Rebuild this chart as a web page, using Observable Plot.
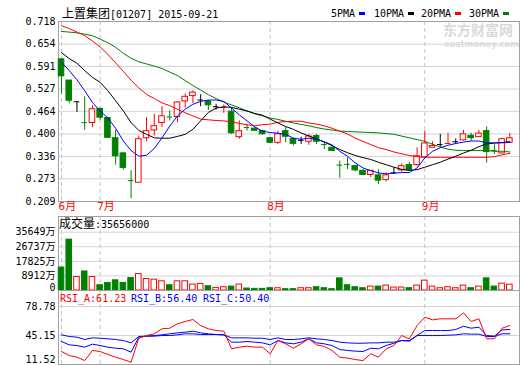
<!DOCTYPE html>
<html><head><meta charset="utf-8">
<script src="https://cdn.jsdelivr.net/npm/d3@7"></script>
<script src="https://cdn.jsdelivr.net/npm/@observablehq/plot@0.6"></script>
<style>
body{margin:0;background:#fff;}
#wrap{position:relative;width:520px;height:365px;overflow:hidden;font-family:"DejaVu Sans Mono","Noto Sans CJK SC",monospace;}
#wrap svg{position:absolute;left:0;}
.t{position:absolute;white-space:nowrap;font-size:10px;line-height:12px;font-family:"DejaVu Sans Mono",monospace;color:#000;}
.c{font-family:"Noto Sans CJK SC";font-size:12px;}
.sq{position:absolute;width:6px;height:3px;}
.wm{position:absolute;white-space:nowrap;color:#dadada;font-weight:bold;font-family:"Noto Sans CJK SC";}
</style></head>
<body><div id="wrap"></div>
<script>
const openP  = [0.611,0.551,0.491,0.433,0.431,0.471,0.445,0.388,0.345,0.269,0.262,0.388,0.410,0.431,0.449,0.448,0.492,0.507,0.496,0.492,0.477,0.474,0.463,0.391,0.419,0.415,0.408,0.388,0.375,0.408,0.386,0.382,0.378,0.394,0.371,0.361,0.313,0.315,0.309,0.296,0.284,0.283,0.270,0.290,0.297,0.312,0.312,0.334,0.361,0.370,0.372,0.378,0.382,0.395,0.391,0.408,0.354,0.345,0.375];
const highP  = [0.613,0.551,0.491,0.505,0.480,0.473,0.447,0.410,0.347,0.296,0.394,0.446,0.456,0.477,0.465,0.492,0.513,0.522,0.511,0.494,0.484,0.482,0.475,0.437,0.426,0.418,0.411,0.390,0.408,0.418,0.388,0.391,0.399,0.399,0.375,0.363,0.323,0.332,0.311,0.298,0.296,0.299,0.290,0.304,0.315,0.320,0.361,0.408,0.378,0.399,0.402,0.386,0.410,0.402,0.410,0.420,0.370,0.388,0.402];
const lowP   = [0.515,0.486,0.461,0.411,0.418,0.439,0.387,0.312,0.298,0.217,0.262,0.378,0.394,0.418,0.437,0.432,0.473,0.486,0.477,0.467,0.467,0.458,0.399,0.385,0.408,0.408,0.397,0.373,0.370,0.375,0.366,0.370,0.368,0.370,0.356,0.350,0.275,0.299,0.293,0.282,0.277,0.257,0.264,0.287,0.292,0.295,0.309,0.334,0.361,0.361,0.370,0.370,0.380,0.380,0.391,0.318,0.342,0.344,0.375];
const closeP = [0.563,0.494,0.491,0.432,0.470,0.446,0.389,0.337,0.304,0.268,0.385,0.408,0.422,0.450,0.448,0.489,0.505,0.517,0.496,0.481,0.477,0.475,0.402,0.408,0.418,0.409,0.399,0.375,0.399,0.392,0.372,0.382,0.393,0.378,0.370,0.352,0.312,0.314,0.297,0.284,0.296,0.268,0.283,0.290,0.309,0.297,0.337,0.373,0.366,0.370,0.373,0.378,0.399,0.388,0.401,0.349,0.353,0.385,0.388];
const volume = [14050,31100,8230,11640,8230,3210,4620,6220,4620,7620,10030,7020,6620,5620,3210,5620,5620,3610,4010,2610,1600,2000,2400,3610,1200,1000,1000,1400,1400,800,800,1400,1400,2000,1400,800,7420,3210,2000,1400,2400,2400,3000,1800,1800,1400,3000,6020,2400,1400,2000,1400,3000,1400,2400,7420,2400,4210,3566];
const ma5  = [0.603,0.579,0.553,0.522,0.489,0.465,0.445,0.416,0.380,0.353,0.337,0.340,0.359,0.389,0.422,0.451,0.470,0.484,0.492,0.496,0.496,0.492,0.473,0.454,0.437,0.420,0.408,0.404,0.402,0.399,0.388,0.385,0.388,0.385,0.378,0.369,0.351,0.337,0.318,0.304,0.296,0.290,0.287,0.289,0.291,0.291,0.304,0.332,0.351,0.361,0.368,0.373,0.377,0.380,0.380,0.375,0.375,0.375,0.376];
const ma10 = [0.630,0.613,0.600,0.579,0.560,0.546,0.522,0.494,0.465,0.432,0.410,0.399,0.389,0.388,0.388,0.393,0.399,0.413,0.437,0.461,0.473,0.477,0.475,0.470,0.465,0.458,0.453,0.442,0.431,0.421,0.413,0.403,0.394,0.386,0.377,0.367,0.356,0.347,0.339,0.333,0.328,0.320,0.313,0.306,0.300,0.297,0.299,0.306,0.313,0.320,0.329,0.337,0.346,0.354,0.364,0.372,0.374,0.376,0.378];
const ma20 = [0.706,0.698,0.688,0.678,0.663,0.646,0.625,0.601,0.577,0.552,0.530,0.512,0.500,0.488,0.480,0.470,0.460,0.451,0.442,0.440,0.438,0.437,0.434,0.430,0.426,0.423,0.426,0.428,0.433,0.435,0.436,0.436,0.431,0.428,0.423,0.416,0.408,0.400,0.388,0.379,0.370,0.361,0.356,0.349,0.344,0.339,0.336,0.334,0.334,0.334,0.334,0.334,0.334,0.334,0.334,0.334,0.336,0.341,0.345];
const ma30 = [0.690,0.688,0.686,0.682,0.678,0.668,0.658,0.645,0.628,0.614,0.604,0.598,0.592,0.585,0.575,0.565,0.551,0.537,0.524,0.511,0.500,0.490,0.482,0.474,0.465,0.457,0.451,0.445,0.441,0.436,0.431,0.427,0.423,0.418,0.414,0.411,0.408,0.407,0.406,0.405,0.404,0.403,0.401,0.399,0.394,0.389,0.384,0.379,0.371,0.363,0.357,0.354,0.353,0.353,0.353,0.353,0.351,0.351,0.349];
const rsiA = [26.6,21.9,20.0,16.1,27.8,26.6,23.1,20.0,17.3,14.2,42.0,45.1,47.1,52.9,53.6,58.7,61.4,63.7,56.7,52.9,50.9,50.2,29.7,31.6,32.8,31.6,31.6,23.9,39.3,35.5,30.4,35.5,41.3,34.3,32.4,27.8,20.0,18.9,17.3,16.1,23.9,20.0,29.7,33.5,45.1,41.3,56.7,66.4,63.3,64.5,64.5,64.5,71.4,61.4,64.5,41.3,41.3,53.6,56.7];
const rsiB = [38.2,34.3,33.5,31.6,35.1,33.5,31.6,30.4,29.7,25.8,43.2,44.4,45.1,45.9,47.1,48.2,49.0,50.2,48.2,47.1,46.3,45.9,37.4,37.4,38.2,37.4,36.6,34.3,39.3,36.6,35.5,37.4,41.3,36.6,35.5,33.5,28.9,27.8,27.0,26.6,30.4,29.7,33.5,36.2,39.3,39.3,45.1,50.9,50.9,50.9,50.9,52.1,55.9,53.6,54.8,45.1,44.4,51.7,52.1];
const rsiC = [45.9,44.0,43.2,40.5,42.4,42.0,41.3,40.5,39.3,36.6,44.0,44.4,44.4,45.1,45.1,45.9,47.1,47.1,46.3,46.3,46.3,45.9,42.4,42.4,42.4,42.0,42.0,40.5,42.4,40.5,40.5,41.3,42.4,41.3,40.5,39.3,37.4,36.6,36.2,36.2,36.6,36.6,37.4,37.4,39.3,38.6,45.1,45.1,45.1,45.1,45.5,45.9,47.1,46.7,46.7,44.0,44.0,47.1,47.1];
const priceTicks = [0.718,0.654,0.591,0.527,0.464,0.400,0.336,0.273,0.209];
const volTicks = [8912,17825,26737,35649];
const rsiTicks = [78.78,45.15,11.52];
const monthIdx = [0,5,27,47];
const monthLabels = ["6月","7月","8月","9月"];

const candles = openP.map((o,i)=>({i, open:o, high:highP[i], low:lowP[i], close:closeP[i], vol:volume[i]}));
const RED="#ff0000", GREEN="#008000", BLUE="#0000ff", BLACK="#000000";
const col = d => d.close>d.open ? RED : d.close<d.open ? GREEN : BLACK;
const isCross = d => Math.abs(d.close-d.open) < 0.0015;
const xDomain = [-0.39, 59.25];
const HW = 0.36;
const gridC="#d4d4d4", frameC="#a0a0a0", dashC="#c4c4c4";
const FONT = '"DejaVu Sans Mono","Noto Sans CJK SC",monospace';
const baseStyle = {fontFamily:FONT, fontSize:"10px", background:"transparent", overflow:"visible"};
const idx = (d,i)=>i;
const wrap = document.getElementById("wrap");

const main = Plot.plot({
  width:520, height:214, marginLeft:58, marginRight:1, marginTop:21, marginBottom:13,
  style:baseStyle,
  x:{domain:xDomain}, y:{domain:[0.209,0.718]}, color:{type:"identity"},
  marks:[
    Plot.ruleY(priceTicks.slice(1,-1), {stroke:gridC}),
    Plot.ruleX(monthIdx, {stroke:dashC, strokeDasharray:"4,3"}),
    Plot.frame({stroke:frameC}),
    Plot.axisY({ticks:priceTicks, tickSize:0, tickPadding:3, tickFormat:d3.format(".3f"), label:null}),
    Plot.axisX({ticks:monthIdx, tickSize:0, tickPadding:1, tickFormat:d=>monthLabels[monthIdx.indexOf(d)], fill:RED, textAnchor:"start", dx:-3, label:null, fontSize:"11px"}),
    Plot.ruleX(candles, {x:"i", y1:"low", y2:"high", stroke:col}),
    Plot.rect(candles.filter(d=>!isCross(d)), {x1:d=>d.i-HW, x2:d=>d.i+HW, y1:"open", y2:"close", fill:d=>d.close>d.open?"#ffffff":col(d), stroke:col}),
    Plot.ruleY(candles.filter(isCross), {y:"close", x1:d=>d.i-HW, x2:d=>d.i+HW, stroke:col}),
    Plot.line(ma30, {x:idx, y:d=>d, stroke:GREEN, strokeWidth:1}),
    Plot.line(ma20, {x:idx, y:d=>d, stroke:RED, strokeWidth:1}),
    Plot.line(ma10, {x:idx, y:d=>d, stroke:BLACK, strokeWidth:1}),
    Plot.line(ma5, {x:idx, y:d=>d, stroke:BLUE, strokeWidth:1})
  ]
});
main.style.top="0px"; wrap.appendChild(main);

const vol = Plot.plot({
  width:520, height:77, marginLeft:58, marginRight:1, marginTop:2, marginBottom:1,
  style:baseStyle,
  x:{domain:xDomain, axis:null}, y:{domain:[0,35649], range:[76,17.7]}, color:{type:"identity"},
  marks:[
    Plot.ruleY(volTicks, {stroke:gridC}),
    Plot.ruleX(monthIdx, {stroke:dashC, strokeDasharray:"4,3"}),
    Plot.frame({stroke:frameC}),
    Plot.axisY({ticks:volTicks, tickSize:0, tickPadding:3, tickFormat:d=>d+"万", label:null}),
    Plot.axisY({ticks:[0], tickSize:0, tickPadding:3, tickFormat:d=>String(d), dy:-3, label:null}),
    Plot.rect(candles, {x1:d=>d.i-HW, x2:d=>d.i+HW, y1:0, y2:"vol", fill:d=>d.close<d.open?GREEN:"#ffffff", stroke:d=>d.close<d.open?GREEN:RED})
  ]
});
vol.style.top="214px"; wrap.appendChild(vol);

const rsi = Plot.plot({
  width:520, height:75, marginLeft:58, marginRight:1, marginTop:0, marginBottom:1,
  style:baseStyle,
  x:{domain:xDomain, axis:null}, y:{domain:[11.52,78.78], range:[74,16]},
  marks:[
    Plot.ruleY(rsiTicks.slice(0,2), {stroke:gridC}),
    Plot.ruleX(monthIdx, {stroke:dashC, strokeDasharray:"4,3"}),
    Plot.frame({stroke:frameC}),
    Plot.axisY({ticks:rsiTicks.slice(0,2), tickSize:0, tickPadding:3, tickFormat:d3.format(".2f"), label:null}),
    Plot.axisY({ticks:[11.52], tickSize:0, tickPadding:3, tickFormat:d3.format(".2f"), dy:-5, label:null}),
    Plot.line(rsiC, {x:idx, y:d=>d, stroke:BLUE, strokeWidth:1}),
    Plot.line(rsiB, {x:idx, y:d=>d, stroke:BLUE, strokeWidth:1}),
    Plot.line(rsiA, {x:idx, y:d=>d, stroke:RED, strokeWidth:1})
  ]
});
rsi.style.top="290px"; wrap.appendChild(rsi);

function addText(html, left, top, color, cls){
  const el=document.createElement("div");
  el.className=cls||"t"; el.innerHTML=html;
  el.style.left=left+"px"; el.style.top=top+"px";
  if(color) el.style.color=color;
  wrap.appendChild(el); return el;
}
function addSq(left, top, color){
  const el=document.createElement("div"); el.className="sq";
  el.style.left=left+"px"; el.style.top=top+"px"; el.style.background=color;
  wrap.appendChild(el);
}
addText('<span class="c">上置集团</span>[01207] 2015-09-21', 62, 7);
addText("5PMA", 331, 8); addSq(359, 12, BLUE);
addText("10PMA", 374, 8); addSq(408, 12, BLACK);
addText("20PMA", 421, 8); addSq(455, 12, RED);
addText("30PMA", 469, 8); addSq(503, 12, GREEN);
const w1=addText("东方财富网", 443, 22, null, "wm"); w1.style.fontSize="14px"; w1.style.lineHeight="14px";
const w2=addText("eastmoney.com", 444, 40, null, "wm"); w2.style.fontSize="8.5px"; w2.style.lineHeight="9px"; w2.style.fontFamily="DejaVu Sans";
addText('<span class="c">成交量</span>:35656000', 59, 217);
addText("RSI_A:61.23", 60, 293, RED);
addText("RSI_B:56.40", 131, 293, BLUE);
addText("RSI_C:50.40", 203, 293, BLUE);
</script>
</body></html>
